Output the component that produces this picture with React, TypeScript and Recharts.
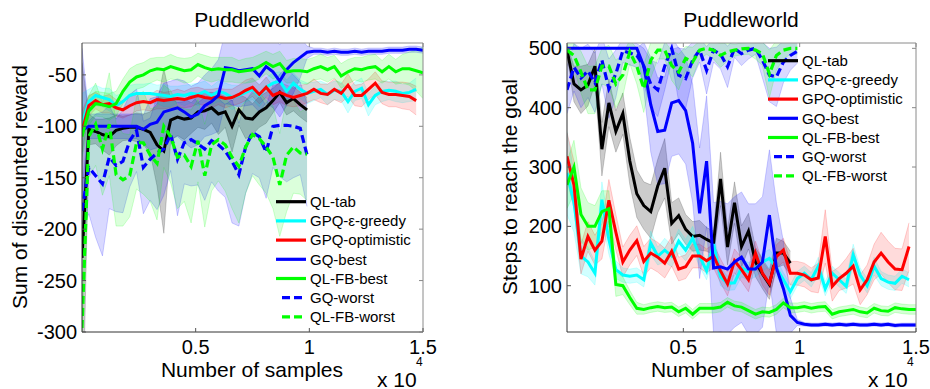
import React from 'react';
import {ComposedChart, Line, Area, XAxis, YAxis, ReferenceLine, Legend} from 'recharts';

const FONT = "'Liberation Sans', Arial, Helvetica, sans-serif";

// number of samples (x axis)
const samples = [
	0, 300, 600, 900, 1200, 1500, 1800, 2100, 2400, 2700, 3000, 3300, 3600, 3900, 4200, 4500, 4800,
	5100, 5400, 5700, 6000, 6300, 6600, 6900, 7200, 7500, 7800, 8100, 8400, 8700, 9000, 9300, 9600,
	9900, 10200, 10500, 10800, 11100, 11400, 11700, 12000, 12300, 12600, 12900, 13200, 13500, 13800,
	14100, 14400, 14700, 15000,
];
const xTicks = [5000, 10000, 15000];

// left panel: sum of discounted reward
const rewardTicks = [-300, -250, -200, -150, -100, -50];
const rewardQlTab = [-228, -103, -105, -108, -110, -104, -102, -101, -101, -103, -106, -118, -124, -94, -91, -93, -92, -86, -85, -82, -88, -86, -100, -84, -92, -93, -86, -82, -75, -67, -77, -73, -79, -84];
const rewardQlTabSd = [190, 15, 12, 15, 18, 15, 12, 12, 14, 15, 20, 40, 80, 20, 18, 20, 15, 15, 18, 15, 20, 15, 25, 15, 20, 15, 15, 15, 12, 10, 12, 12, 12, 12];
const rewardGpqEps = [-98, -76, -70, -72, -74, -80, -76, -70, -68, -68, -68, -69, -70, -71, -69, -70, -68, -69, -66, -70, -66, -68, -72, -70, -67, -64, -70, -62, -58, -56, -66, -58, -64, -68, -66, -64, -69, -65, -66, -76, -66, -63, -79, -70, -66, -65, -66, -68, -67, -64];
const rewardGpqEpsSd = [30, 12, 10, 9, 11, 10, 8, 10, 9, 9, 10, 9, 11, 10, 8, 10, 9, 11, 10, 9, 10, 10, 12, 10, 9, 10, 11, 9, 10, 9, 11, 10, 9, 10, 9, 8, 10, 9, 9, 11, 9, 10, 11, 9, 10, 9, 10, 9, 9, 11];
const rewardGpqOpt = [-105, -80, -75, -79, -78, -82, -84, -80, -77, -76, -77, -74, -75, -74, -73, -74, -72, -70, -72, -73, -71, -73, -72, -69, -65, -62, -69, -62, -70, -67, -70, -72, -70, -68, -64, -68, -69, -64, -68, -60, -70, -70, -64, -58, -67, -69, -69, -70, -71, -75];
const rewardGpqOptSd = [20, 10, 8, 8, 9, 8, 8, 9, 8, 8, 8, 9, 8, 8, 9, 8, 9, 8, 8, 9, 8, 9, 8, 9, 10, 9, 9, 10, 9, 9, 10, 9, 10, 9, 10, 9, 10, 10, 9, 11, 10, 11, 10, 11, 11, 12, 12, 13, 13, 14];
const rewardGqBest = [-104, -100, -100, -100, -100, -100, -100, -100, -100, -103, -98, -96, -86, -84, -82, -86, -91, -88, -80, -76, -70, -43, -44, -46, -45, -44, -51, -42, -47, -56, -45, -38, -33, -28, -27, -27, -28, -27, -28, -28, -27, -28, -27, -27, -27, -26, -26, -26, -25, -25, -26];
const rewardGqBestSd = [80, 12, 12, 12, 12, 12, 12, 12, 12, 14, 25, 25, 28, 28, 28, 30, 30, 30, 30, 32, 35, 35, 35, 35, 35, 35, 35, 35, 35, 35, 35, 30, 20, 6, 3, 3, 3, 3, 3, 3, 3, 3, 3, 3, 3, 3, 3, 3, 3, 3, 3];
const rewardGqWorst = [-182, -140, -148, -156, -130, -138, -134, -114, -104, -140, -132, -126, -122, -108, -132, -116, -113, -117, -122, -114, -118, -124, -134, -147, -120, -106, -110, -125, -100, -99, -99, -100, -102, -128];
const rewardGqWorstSd = [20, 45, 60, 70, 50, 45, 50, 45, 40, 45, 40, 55, 45, 35, 55, 40, 45, 40, 50, 40, 45, 45, 60, 50, 45, 40, 40, 45, 40, 50, 55, 50, 45, 50];
const rewardQlFbBest = [-110, -85, -78, -79, -81, -78, -66, -57, -52, -50, -46, -44, -45, -42, -44, -46, -45, -40, -43, -45, -44, -45, -45, -47, -46, -45, -42, -38, -42, -39, -47, -46, -46, -47, -44, -42, -45, -42, -51, -47, -44, -45, -43, -42, -47, -42, -47, -44, -44, -46, -48];
const rewardQlFbBestSd = [20, 14, 12, 12, 13, 12, 12, 13, 12, 12, 12, 11, 12, 12, 11, 12, 12, 11, 12, 12, 11, 12, 12, 11, 12, 12, 12, 11, 12, 12, 11, 12, 12, 12, 11, 12, 12, 11, 12, 12, 11, 12, 12, 12, 11, 12, 12, 14, 16, 20, 25];
const rewardQlFbWorst = [-296, -110, -98, -122, -98, -147, -152, -148, -116, -116, -128, -136, -100, -110, -130, -128, -139, -114, -148, -118, -113, -118, -130, -139, -120, -108, -112, -120, -130, -157, -128, -120, -126, -127];
const rewardQlFbWorstSd = [10, 40, 40, 45, 50, 50, 45, 40, 45, 50, 45, 55, 40, 45, 50, 45, 55, 40, 50, 45, 40, 45, 50, 55, 45, 40, 45, 45, 50, 50, 55, 45, 40, 45];

// right panel: steps to reach the goal
const stepTicks = [100, 200, 300, 400, 500];
const stepsQlTab = [497, 440, 430, 438, 470, 330, 408, 360, 390, 310, 255, 235, 225, 268, 298, 205, 218, 195, 183, 185, 178, 172, 280, 165, 240, 166, 192, 140, 120, 102, 155, 155, 138];
const stepsQlTabSd = [10, 30, 40, 35, 30, 45, 40, 35, 35, 40, 40, 40, 45, 45, 50, 35, 30, 25, 25, 25, 20, 20, 45, 30, 35, 35, 30, 25, 25, 25, 25, 20, 20];
const stepsGpqEps = [290, 240, 150, 140, 121, 245, 178, 127, 118, 116, 118, 110, 172, 150, 160, 150, 175, 160, 180, 150, 125, 170, 115, 104, 105, 130, 124, 130, 140, 146, 130, 110, 90, 112, 121, 110, 133, 95, 121, 110, 99, 152, 118, 100, 133, 112, 106, 104, 116, 110];
const stepsGpqEpsSd = [70, 50, 30, 25, 20, 30, 25, 15, 12, 12, 12, 12, 20, 15, 20, 18, 20, 18, 20, 18, 15, 20, 15, 12, 12, 15, 15, 15, 15, 15, 15, 12, 12, 12, 12, 12, 15, 12, 12, 12, 12, 18, 12, 12, 15, 12, 12, 12, 12, 12];
const stepsGpqOpt = [318, 270, 145, 183, 160, 175, 244, 190, 140, 160, 176, 141, 155, 148, 138, 158, 128, 132, 150, 150, 142, 150, 125, 103, 142, 127, 110, 155, 121, 104, 149, 160, 121, 121, 118, 110, 113, 183, 99, 112, 121, 133, 93, 110, 140, 155, 140, 128, 127, 166];
const stepsGpqOptSd = [40, 40, 25, 25, 25, 30, 35, 30, 25, 25, 25, 25, 25, 25, 25, 25, 20, 20, 20, 20, 20, 20, 20, 20, 20, 20, 20, 20, 20, 20, 20, 20, 20, 20, 20, 20, 25, 45, 25, 20, 25, 30, 25, 25, 30, 35, 35, 35, 35, 40];
const stepsGqBest = [500, 500, 500, 500, 500, 500, 500, 500, 500, 500, 500, 470, 405, 360, 362, 408, 412, 395, 340, 222, 310, 130, 132, 128, 140, 148, 128, 128, 140, 219, 130, 95, 50, 38, 35, 34, 34, 35, 34, 35, 34, 35, 34, 34, 35, 34, 35, 33, 34, 34, 34];
const stepsGqBestSd = [0, 0, 0, 0, 0, 0, 0, 0, 0, 0, 0, 40, 80, 90, 90, 90, 90, 90, 100, 110, 110, 110, 110, 110, 110, 110, 110, 110, 110, 110, 110, 80, 30, 5, 3, 3, 3, 3, 3, 3, 3, 3, 3, 3, 3, 3, 3, 3, 3, 3, 3];
const stepsGqWorst = [430, 468, 450, 462, 442, 480, 432, 457, 496, 492, 488, 470, 440, 430, 470, 500, 455, 449, 480, 497, 463, 497, 490, 469, 500, 491, 497, 500, 480, 455, 452, 477, 488, 495];
const stepsGqWorstSd = [40, 40, 50, 45, 50, 40, 50, 40, 20, 20, 20, 30, 40, 45, 40, 20, 45, 50, 30, 20, 40, 20, 25, 35, 15, 20, 15, 10, 30, 45, 50, 35, 25, 20];
const stepsQlFbBest = [270, 300, 220, 200, 200, 225, 230, 102, 100, 80, 62, 60, 63, 65, 63, 64, 56, 62, 52, 62, 62, 62, 64, 72, 66, 64, 58, 52, 56, 55, 60, 71, 63, 63, 65, 62, 64, 65, 52, 56, 58, 60, 56, 54, 62, 58, 57, 63, 61, 60, 60];
const stepsQlFbBestSd = [40, 45, 45, 40, 35, 35, 30, 20, 15, 12, 10, 8, 8, 8, 8, 8, 8, 8, 8, 8, 8, 8, 8, 8, 8, 8, 8, 8, 8, 8, 8, 8, 8, 8, 8, 8, 8, 8, 8, 8, 8, 8, 8, 8, 8, 8, 8, 8, 8, 8, 8];
const stepsQlFbWorst = [497, 488, 460, 430, 430, 470, 470, 440, 455, 494, 470, 432, 480, 497, 497, 471, 460, 483, 477, 497, 500, 497, 488, 494, 497, 499, 500, 497, 491, 457, 488, 497, 500, 500];
const stepsQlFbWorstSd = [10, 20, 35, 40, 40, 30, 35, 40, 35, 20, 30, 40, 30, 15, 15, 25, 30, 20, 25, 15, 10, 15, 20, 15, 10, 10, 10, 15, 20, 40, 25, 15, 10, 10];

type Series = {key: string; name: string; color: string; dashed?: boolean; bandOpacity: number; mean: number[]; sd: number[]};

const rewardSeries: Series[] = [
	{key: 'qlTab', name: 'QL-tab', color: '#000000', bandOpacity: 0.2, mean: rewardQlTab, sd: rewardQlTabSd},
	{key: 'gpqEps', name: 'GPQ-ε-greedy', color: '#00ffff', bandOpacity: 0.18, mean: rewardGpqEps, sd: rewardGpqEpsSd},
	{key: 'gpqOpt', name: 'GPQ-optimistic', color: '#ff0000', bandOpacity: 0.14, mean: rewardGpqOpt, sd: rewardGpqOptSd},
	{key: 'gqBest', name: 'GQ-best', color: '#0000ff', bandOpacity: 0.18, mean: rewardGqBest, sd: rewardGqBestSd},
	{key: 'qlFbBest', name: 'QL-FB-best', color: '#00ff00', bandOpacity: 0.16, mean: rewardQlFbBest, sd: rewardQlFbBestSd},
	{key: 'gqWorst', name: 'GQ-worst', color: '#0000ff', dashed: true, bandOpacity: 0.15, mean: rewardGqWorst, sd: rewardGqWorstSd},
	{key: 'qlFbWorst', name: 'QL-FB-worst', color: '#00ff00', dashed: true, bandOpacity: 0.14, mean: rewardQlFbWorst, sd: rewardQlFbWorstSd},
];

const stepSeries: Series[] = [
	{key: 'qlTab', name: 'QL-tab', color: '#000000', bandOpacity: 0.2, mean: stepsQlTab, sd: stepsQlTabSd},
	{key: 'gpqEps', name: 'GPQ-ε-greedy', color: '#00ffff', bandOpacity: 0.18, mean: stepsGpqEps, sd: stepsGpqEpsSd},
	{key: 'gpqOpt', name: 'GPQ-optimistic', color: '#ff0000', bandOpacity: 0.14, mean: stepsGpqOpt, sd: stepsGpqOptSd},
	{key: 'gqBest', name: 'GQ-best', color: '#0000ff', bandOpacity: 0.18, mean: stepsGqBest, sd: stepsGqBestSd},
	{key: 'qlFbBest', name: 'QL-FB-best', color: '#00ff00', bandOpacity: 0.16, mean: stepsQlFbBest, sd: stepsQlFbBestSd},
	{key: 'gqWorst', name: 'GQ-worst', color: '#0000ff', dashed: true, bandOpacity: 0.15, mean: stepsGqWorst, sd: stepsGqWorstSd},
	{key: 'qlFbWorst', name: 'QL-FB-worst', color: '#00ff00', dashed: true, bandOpacity: 0.14, mean: stepsQlFbWorst, sd: stepsQlFbWorstSd},
];

function buildRows(series: Series[]) {
	return samples.map((x, i) => {
		const row: Record<string, unknown> = {x};
		series.forEach((s) => {
			const v = s.mean[i];
			if (v === undefined) return;
			row[s.key] = v;
			row[s.key + 'Band'] = [v - s.sd[i], v + s.sd[i]];
		});
		return row;
	});
}

const DASH = '8 4';

function LegendBox(props: {series: Series[]}) {
	return (
		<svg width={170} height={140} style={{overflow: 'visible'}}>
			{props.series.map((s, k) => {
				const y = 11.7 + k * 19.2;
				return (
					<g key={s.key}>
						<line x1={s.dashed ? 8 : 2} x2={32} y1={y} y2={y} stroke={s.color} strokeWidth={3.2}
							strokeDasharray={s.dashed ? DASH : undefined} />
						<text x={36} y={y + 5.3} fontSize={15} fontFamily={FONT} fill="#000">{s.name}</text>
					</g>
				);
			})}
		</svg>
	);
}

type PanelProps = {
	series: Series[];
	left: number;
	width: number;
	marginLeft: number;
	marginRight: number;
	yDomain: [number, number];
	yTicks: number[];
	legendX: number;
	legendY: number;
};

function Panel(p: PanelProps) {
	const data = buildRows(p.series);
	const plotLeft = p.marginLeft + 60;
	const plotRight = p.width - p.marginRight;
	const plotTop = 43;
	const plotBottom = 332;

	const yTick = (t: any) => (
		<g>
			<text x={plotLeft - 5} y={t.y} dy={7} textAnchor="end" fontSize={20} fontFamily={FONT} fill="#000">
				{t.payload.value}
			</text>
			<line x1={plotLeft} x2={plotLeft + 4} y1={t.y} y2={t.y} stroke="#555" />
			<line x1={plotRight - 4} x2={plotRight} y1={t.y} y2={t.y} stroke="#888" />
		</g>
	);
	const xTick = (t: any) => (
		<g>
			<text x={t.x} y={plotBottom + 22} textAnchor="middle" fontSize={20} fontFamily={FONT} fill="#000">
				{String(t.payload.value / 10000)}
			</text>
			<line x1={t.x} x2={t.x} y1={plotBottom} y2={plotBottom - 4} stroke="#555" />
			<line x1={t.x} x2={t.x} y1={plotTop} y2={plotTop + 4} stroke="#888" />
		</g>
	);

	return (
		<div style={{position: 'absolute', left: p.left, top: 0}}>
			<ComposedChart width={p.width} height={389} data={data}
				margin={{top: plotTop, right: p.marginRight, bottom: 27, left: p.marginLeft}}>
				<XAxis dataKey="x" type="number" domain={[0, 15000]} ticks={xTicks} allowDataOverflow
					height={30} tickLine={false} axisLine={{stroke: '#333'}} tick={xTick} interval={0} />
				<YAxis type="number" domain={p.yDomain} ticks={p.yTicks} allowDataOverflow width={60}
					tickLine={false} axisLine={{stroke: '#333'}} tick={yTick} interval={0} />
				{p.series.map((s) => (
					<Area key={s.key + 'Band'} dataKey={s.key + 'Band'} type="linear" fill={s.color}
						fillOpacity={s.bandOpacity} stroke={s.color} strokeOpacity={0.3} strokeWidth={0.6}
						isAnimationActive={false} activeDot={false} legendType="none" />
				))}
				{p.series.map((s) => (
					<Line key={s.key} dataKey={s.key} name={s.name} type="linear" stroke={s.color}
						strokeWidth={s.dashed ? 3.2 : 3} strokeDasharray={s.dashed ? DASH : undefined}
						dot={false} activeDot={false} isAnimationActive={false} />
				))}
				<ReferenceLine y={p.yDomain[1]} stroke="#8a8a8a" />
				<ReferenceLine x={15000} stroke="#8a8a8a" />
				<Legend layout="horizontal" verticalAlign="middle" align="center"
					wrapperStyle={{left: p.legendX, top: p.legendY, width: 170, height: 140}}
					content={() => <LegendBox series={p.series} />} />
			</ComposedChart>
		</div>
	);
}

export default function App() {
	const txt = {fontFamily: FONT, fill: '#000'};
	return (
		<div style={{position: 'absolute', left: 0, top: 0, width: 930, height: 389, background: '#fff', overflow: 'hidden'}}>
			<Panel series={rewardSeries} left={0} width={440} marginLeft={22} marginRight={17}
				yDomain={[-300, -19]} yTicks={rewardTicks} legendX={274} legendY={190} />
			<Panel series={stepSeries} left={470} width={460} marginLeft={37} marginRight={14}
				yDomain={[22, 509]} yTicks={stepTicks} legendX={296} legendY={49} />
			<svg width={930} height={389} style={{position: 'absolute', left: 0, top: 0, pointerEvents: 'none'}}>
				<text x={252} y={27} textAnchor="middle" fontSize={21} {...txt}>Puddleworld</text>
				<text x={741} y={27} textAnchor="middle" fontSize={21} {...txt}>Puddleworld</text>
				<text x={252} y={377} textAnchor="middle" fontSize={21} {...txt}>Number of samples</text>
				<text x={742} y={377} textAnchor="middle" fontSize={21} {...txt}>Number of samples</text>
				<text x={26.5} y={187} textAnchor="middle" fontSize={21} transform="rotate(-90 26.5 187)" {...txt}>
					Sum of discounted reward
				</text>
				<text x={516.5} y={187} textAnchor="middle" fontSize={21} transform="rotate(-90 516.5 187)" {...txt}>
					Steps to reach the goal
				</text>
				<text x={377} y={387} fontSize={21} {...txt}>x 10</text>
				<text x={416} y={366} fontSize={12} {...txt}>4</text>
				<text x={868} y={387} fontSize={21} {...txt}>x 10</text>
				<text x={907} y={366} fontSize={12} {...txt}>4</text>
			</svg>
		</div>
	);
}
